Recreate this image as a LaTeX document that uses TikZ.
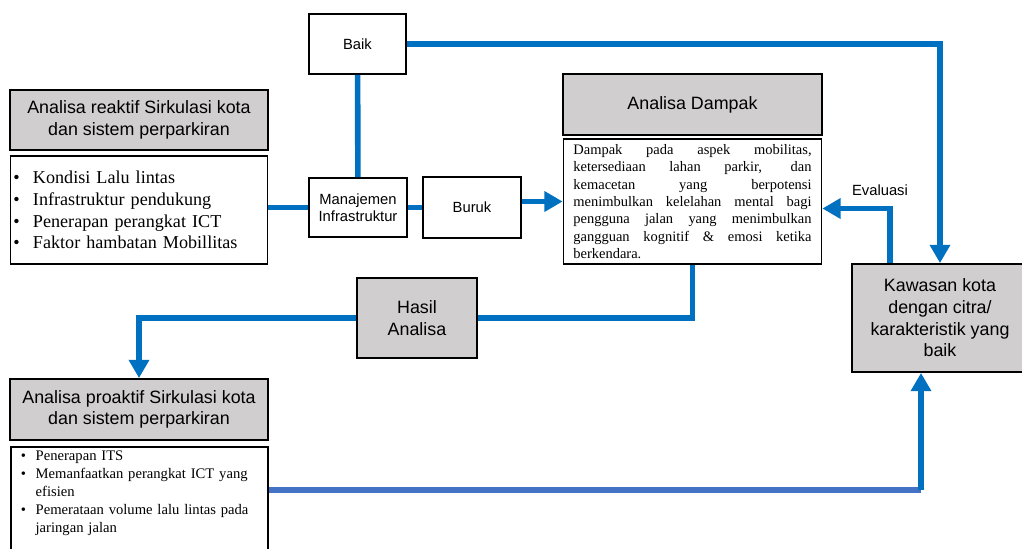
\documentclass[tikz,border=0pt]{standalone}
\usepackage{fontspec}
\setmainfont{Liberation Serif}
\setsansfont{Liberation Sans}
\usetikzlibrary{arrows.meta}
\definecolor{boxgray}{RGB}{208,206,206}
\definecolor{lineblue}{RGB}{0,112,192}
\definecolor{lightblue}{RGB}{68,114,196}
\newcommand{\bul}[1]{\makebox[#1][l]{\textbullet}}
\tolerance=9999
\hyphenpenalty=10000

\begin{document}
\begin{tikzpicture}[x=0.025cm,y=-0.025cm,
        box/.style={draw,line width=1.3pt,fill=white,inner sep=2pt,align=center,
            font=\sffamily\fontsize{10.5}{11.8}\selectfont},
        headbox/.style={box,fill=boxgray,font=\sffamily\fontsize{12.7}{15.4}\selectfont},
        listbox/.style={box,align=left,font=\rmfamily\fontsize{12.9}{15.4}\selectfont},
        lbl/.style={text=black,font=\sffamily\fontsize{10.5}{11.8}\selectfont},
        link/.style={lineblue,line width=4pt},
        >={Triangle[length=13pt,width=14pt]}
    ]
        \useasboundingbox (0,0) rectangle (1022,548);

        \node[headbox,minimum width=6.45cm,minimum height=1.5cm] (reakhead) at (139,120)
            {Analisa reaktif Sirkulasi kota\\dan sistem perparkiran};
        \node[listbox,text width=178.8pt,minimum height=2.7cm] (reaklist) at (139,210)
            {\bul{14pt}Kondisi Lalu lintas\\ \bul{14pt}Infrastruktur pendukung\\
             \bul{14pt}Penerapan perangkat ICT\\ \bul{14pt}Faktor hambatan Mobillitas};
        \node[box,minimum width=2.425cm,minimum height=1.5cm] (baik) at (357.5,44) {Baik};
        \node[box,minimum width=2.45cm,minimum height=1.475cm] (mana) at (358,207.5)
            {Manajemen\\Infrastruktur};
        \node[box,minimum width=2.45cm,minimum height=1.525cm] (buruk) at (472,207.5) {Buruk};
        \node[headbox,minimum width=6.475cm,minimum height=1.525cm] (damphead) at (692.5,104.5)
            {Analisa Dampak};
        \node[box,text width=169.4pt,inner xsep=7pt,minimum height=3.125cm,align=justify,
            font=\rmfamily\fontsize{10.3}{12.3}\selectfont] (dampak) at (692.5,201.5)
            {Dampak pada aspek mobilitas,\linebreak ketersediaan lahan parkir, dan\linebreak
             kemacetan yang berpotensi\linebreak menimbulkan kelelahan mental bagi\linebreak
             pengguna jalan yang menimbulkan\linebreak gangguan kognitif \& emosi ketika\linebreak
             berkendara.};
        \node[headbox,minimum width=4.4cm,minimum height=2.7cm] (kawasan) at (940,318)
            {Kawasan kota\\dengan citra/\\karakteristik yang\\baik};
        \node[headbox,minimum width=3cm,minimum height=2cm] (hasil) at (417,318)
            {Hasil\\Analisa};
        \node[headbox,minimum width=6.45cm,minimum height=1.525cm] (proakhead) at (139,409.5)
            {Analisa proaktif Sirkulasi kota\\dan sistem perparkiran};
        \node[listbox,anchor=north west,text width=168.8pt,inner xsep=7pt,inner ysep=3pt,
            text depth=2.6cm,font=\rmfamily\fontsize{10.4}{12.8}\selectfont] (proaklist) at (10,446)
            {\bul{10.6pt}Penerapan ITS\\ \bul{10.6pt}Memanfaatkan perangkat ICT yang\\
             \hspace*{10.6pt}efisien\\ \bul{10.6pt}Pemerataan volume lalu lintas pada\\
             \hspace*{10.6pt}jaringan jalan};
        \coordinate (bend) at (921,490);

        \draw[link] (reaklist.east |- mana) -- (mana.west);
        \draw[link] (mana) -- (buruk);
        \draw[link] (baik) -- (mana);
        \draw[link,->] (buruk.east |- dampak) -- (dampak.west);
        \draw[link,->] (baik.east) -| (kawasan.north);
        \draw[link,->] ([xshift=-1.25cm]kawasan.north) |- ([yshift=-0.175cm]dampak.east)
            node[lbl,pos=0.574,above=4pt] (evalua) {Evaluasi};
        \draw[link] (dampak.south) |- (hasil.east);
        \draw[link,->] (hasil.west) -| (proakhead.north);
        \draw[link,lightblue] (proaklist.east |- bend) -- (bend);
        \draw[link,->] (bend) -- (kawasan.south -| bend);
    \end{tikzpicture}
\end{document}
